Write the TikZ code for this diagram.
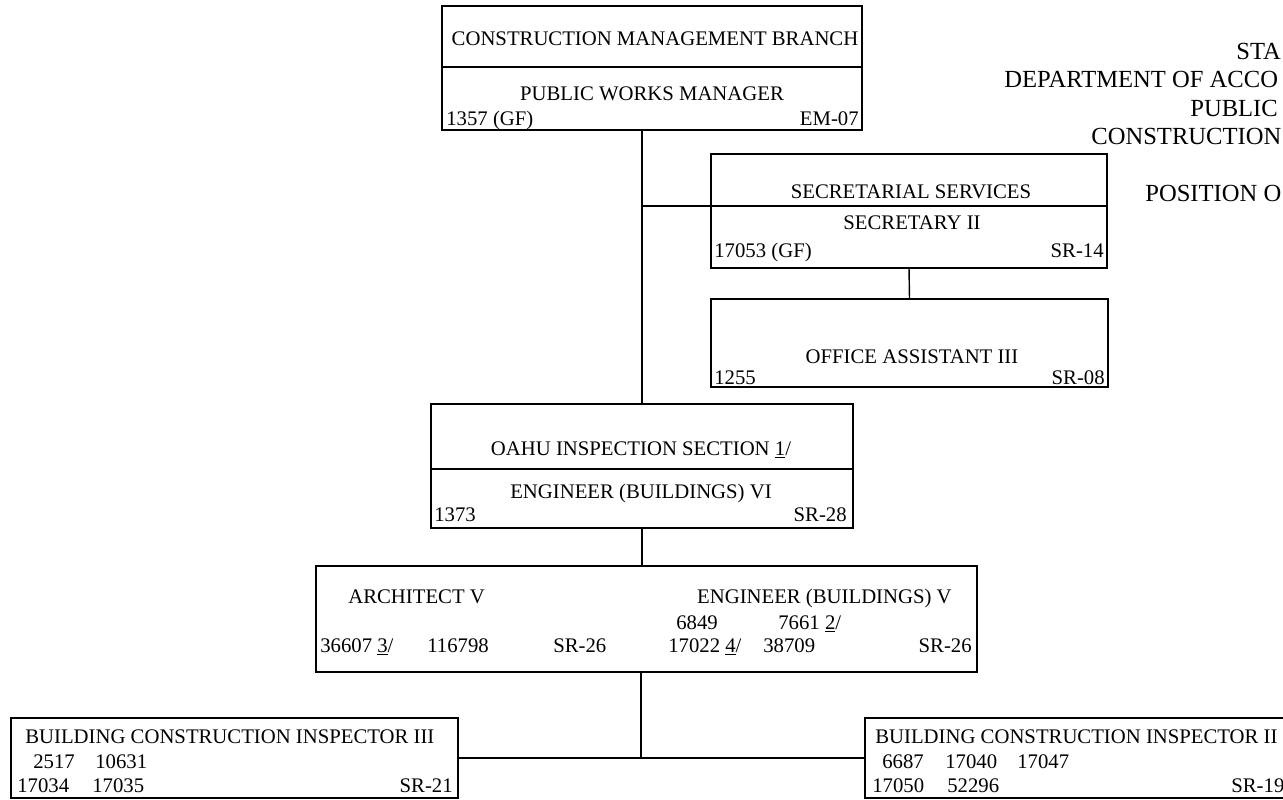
\documentclass[tikz,border=0pt]{standalone}
\usepackage{fontspec}
\setmainfont{Liberation Serif}
\usetikzlibrary{positioning}

\newcommand{\chartfont}{\fontsize{11.8}{14}\selectfont}
\newcommand{\headfont}{\fontsize{14}{17}\selectfont}

\begin{document}
\begin{tikzpicture}[
	% one unit is one pixel of the scanned chart, y runs downwards
	x=0.02cm, y=-0.02cm,
	% Style for the position boxes
	box/.style={
		rectangle,
		draw=black,
		line width=0.8pt,
		inner sep=0pt,
		outer sep=0pt
	},
	% Styles for the texts inside the boxes
	lbl/.style={
		font=\chartfont,
		anchor=base,
		inner sep=0pt
	},
	lblw/.style={lbl, anchor=base west},
	lble/.style={lbl, anchor=base east},
	% Style for the heading at the top right
	head/.style={
		font=\headfont,
		anchor=base west,
		inner sep=0pt
	},
	link/.style={line width=0.8pt}
	]
	\clip (0,0) rectangle (1283,800);
	\fill[white] (0,0) rectangle (1283,800);
	
	% Heading (runs off the right edge of the sheet)
	\foreach \x/\y/\txt [count=\i] in {1236/60/STA, 1004/88/DEPARTMENT OF ACCO, 1190/117/PUBLIC, 1091/145/CONSTRUCTION, 1145/202/POSITION O}{
		\node[head] (head\i) at (\x,\y) {\txt};
	}
	
	% Boxes
	\node[box, minimum width=8.4cm, minimum height=1.22cm] (cmbT) at (652,36.5) {};
	\node[box, minimum width=8.4cm, minimum height=1.26cm] (cmbB) at (652,98.5) {};
	\node[box, minimum width=7.92cm, minimum height=1.04cm] (secT) at (909,180) {};
	\node[box, minimum width=7.92cm, minimum height=1.24cm] (secB) at (909,237) {};
	\node[box, minimum width=7.94cm, minimum height=1.76cm] (office) at (909.5,343) {};
	\node[box, minimum width=8.44cm, minimum height=1.3cm] (oahuT) at (642,436.5) {};
	\node[box, minimum width=8.44cm, minimum height=1.18cm] (oahuB) at (642,498.5) {};
	\node[box, minimum width=13.22cm, minimum height=2.12cm] (arch) at (646.5,619) {};
	\node[box, minimum width=8.94cm, minimum height=1.6cm] (bci3) at (234.5,758) {};
	\node[box, minimum width=8.5cm, minimum height=1.6cm] (bci2) at (1077.5,758) {};
	\coordinate (bus) at (641,758);
	
	% Construction Management Branch
	\node[lbl] (cmbName) at (655,46) {CONSTRUCTION MANAGEMENT BRANCH};
	\node[lbl] (cmbPos) at (652,101) {PUBLIC WORKS MANAGER};
	\node[lblw] (cmbNo) at (446,126) {1357 (GF)};
	\node[lble] (cmbSR) at (859,126) {EM-07};
	
	% Secretarial Services
	\node[lbl] (secName) at (911,199) {SECRETARIAL SERVICES};
	\node[lbl] (secPos) at (912,230) {SECRETARY II};
	\node[lblw] (secNo) at (714,257) {17053 (GF)};
	\node[lble] (secSR) at (1104,257) {SR-14};
	\node[lbl] (offPos) at (912,363) {OFFICE ASSISTANT III};
	\node[lblw] (offNo) at (714,384) {1255};
	\node[lble] (offSR) at (1105,384) {SR-08};
	
	% Oahu Inspection Section
	\node[lbl] (oahuName) at (641,455) {OAHU INSPECTION SECTION \underline{1}/};
	\node[lbl] (oahuPos) at (641,498) {ENGINEER (BUILDINGS) VI};
	\node[lblw] (oahuNo) at (434,521) {1373};
	\node[lble] (oahuSR) at (847,521) {SR-28};
	
	% Architect / Engineer
	\node[lblw] (archPos) at (348,603) {ARCHITECT V};
	\node[lble] (engPos) at (952,603) {ENGINEER (BUILDINGS) V};
	\node[lblw] (engNoA) at (676,629) {6849};
	\node[lblw] (engNoB) at (778,629) {7661 \underline{2}/};
	\node[lblw] (archNoA) at (320,652) {36607 \underline{3}/};
	\node[lblw] (archNoB) at (427,652) {116798};
	\node[lblw] (archSR) at (553,652) {SR-26};
	\node[lblw] (engNoC) at (668,652) {17022 \underline{4}/};
	\node[lblw] (engNoD) at (763,652) {38709};
	\node[lble] (engSR) at (972,652) {SR-26};
	
	% Building Construction Inspectors
	\node[lblw] (bci3Pos) at (25,743) {BUILDING CONSTRUCTION INSPECTOR III};
	\node[lblw] (bci3NoA) at (33,768) {2517};
	\node[lblw] (bci3NoB) at (95,768) {10631};
	\node[lblw] (bci3NoC) at (17,792) {17034};
	\node[lblw] (bci3NoD) at (92,792) {17035};
	\node[lble] (bci3SR) at (453,792) {SR-21};
	\node[lblw] (bci2Pos) at (875,743) {BUILDING CONSTRUCTION INSPECTOR II};
	\node[lblw] (bci2NoA) at (882,768) {6687};
	\node[lblw] (bci2NoB) at (945,768) {17040};
	\node[lblw] (bci2NoC) at (1017,768) {17047};
	\node[lblw] (bci2NoD) at (872,792) {17050};
	\node[lblw] (bci2NoE) at (947,792) {52296};
	\node[lblw] (bci2SR) at (1231,792) {SR-19};
	
	% Lines of authority
	\draw[link] (cmbB.south -| oahuT.north) -- (oahuT.north);
	\draw[link] (secT.south west) -- (secT.south west -| oahuT.north);
	\draw[link] (secB.south) -- (office.north);
	\draw[link] (oahuB.south) -- (oahuB.south |- arch.north);
	\draw[link] (arch.south -| bus) -- (bus);
	\draw[link] (bci3.east) -- (bci2.west);
	
\end{tikzpicture}
\end{document}
